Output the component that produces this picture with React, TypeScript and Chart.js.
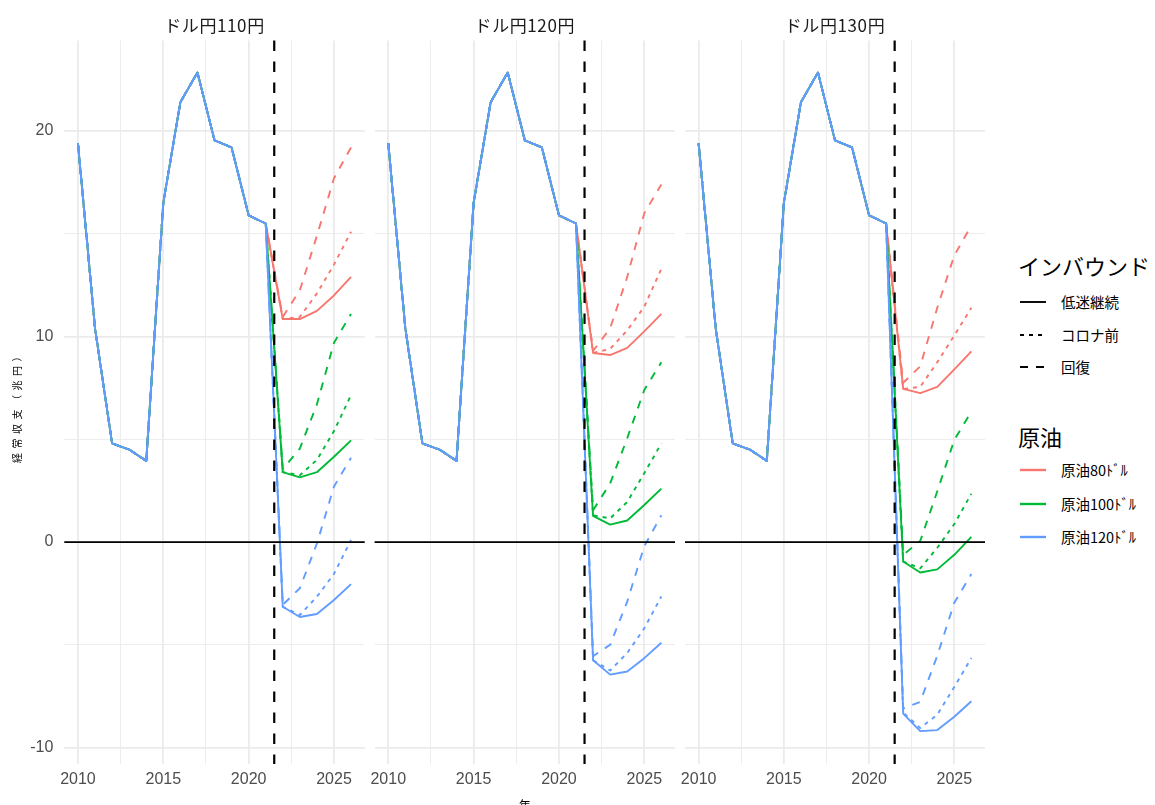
import React, { useEffect, useRef } from 'react';
import { Chart, registerables } from 'chart.js';

Chart.register(...registerables);

// ---------------- data ----------------
const years = [2010, 2011, 2012, 2013, 2014, 2015, 2016, 2017, 2018, 2019, 2020, 2021, 2022, 2023, 2024, 2025, 2026];
// actual 2010-2021 (common to every scenario)
const historyValues = [19.4, 10.4, 4.8, 4.5, 3.95, 16.5, 21.4, 22.85, 19.55, 19.2, 15.9, 15.5];

// projections 2022-2026, order: [低迷継続, コロナ前, 回復]
const yen110Oil80 = [[10.85, 10.85, 11.25, 12.0, 12.9], [10.85, 10.95, 12.1, 13.5, 15.1], [10.95, 12.25, 14.9, 17.7, 19.2]];
const yen110Oil100 = [[3.4, 3.15, 3.4, 4.15, 4.95], [3.4, 3.25, 4.0, 5.4, 7.15], [3.55, 4.55, 6.7, 9.7, 11.1]];
const yen110Oil120 = [[-3.15, -3.65, -3.5, -2.82, -2.05], [-3.15, -3.55, -2.66, -1.55, 0.1], [-3.05, -2.25, -0.07, 2.7, 4.1]];

const yen120Oil80 = [[9.2, 9.1, 9.45, 10.25, 11.1], [9.2, 9.4, 10.3, 11.45, 13.3], [9.3, 10.4, 12.9, 16.0, 17.4]];
const yen120Oil100 = [[1.27, 0.85, 1.05, 1.8, 2.6], [1.3, 1.15, 1.95, 3.35, 4.8], [1.55, 2.85, 5.05, 7.4, 8.75]];
const yen120Oil120 = [[-5.75, -6.45, -6.3, -5.65, -4.9], [-5.75, -6.25, -5.4, -4.2, -2.65], [-5.55, -5.0, -2.9, -0.2, 1.3]];

const yen130Oil80 = [[7.45, 7.25, 7.55, 8.4, 9.28], [7.45, 7.55, 8.75, 10.05, 11.4], [7.75, 8.55, 11.4, 13.95, 15.4]];
const yen130Oil100 = [[-0.95, -1.48, -1.33, -0.62, 0.25], [-0.95, -1.28, -0.28, 0.88, 2.35], [-0.62, 0.05, 2.47, 4.97, 6.35]];
const yen130Oil120 = [[-8.35, -9.2, -9.15, -8.5, -7.75], [-8.3, -9.05, -8.4, -7.05, -5.64], [-8.1, -7.78, -5.53, -2.95, -1.56]];

const panelTitles = ['ドル円110円', 'ドル円120円', 'ドル円130円'];
const panelSeries = [
  [yen110Oil80, yen110Oil100, yen110Oil120],
  [yen120Oil80, yen120Oil100, yen120Oil120],
  [yen130Oil80, yen130Oil100, yen130Oil120],
];
const oilLabels = ['原油80ﾄﾞﾙ', '原油100ﾄﾞﾙ', '原油120ﾄﾞﾙ'];
const inboundLabels = ['低迷継続', 'コロナ前', '回復'];
const oilColors = ['#F8766D', '#00BA38', '#619CFF'];
const dashPatterns: number[][] = [[], [4, 5], [8, 8]];

const xTickValues = [2010, 2012.5, 2015, 2017.5, 2020, 2022.5, 2025];
const yTickValues = [-10, -5, 0, 5, 10, 15, 20];
const xRange = [2009.2, 2026.8];
const yRange = [-10.8, 24.4];
const zeroLevel = 0;
const cutoffYear = 2021.5;

const yAxisTitle = '経常収支（兆円）';
const xAxisTitle = '年';
const inboundTitle = 'インバウンド';
const oilTitle = '原油';

// ---------------- layout ----------------
const CJK = '"Noto Sans CJK JP", "Noto Sans", sans-serif';
const SANS = '"Liberation Sans", Arial, sans-serif';

const panelBoxes = [
  { left: 0, width: 370, padLeft: 0, padRight: 5.3, yWidth: 64.3 },
  { left: 345, width: 345, padLeft: 29.6, padRight: 15, yWidth: 0 },
  { left: 655, width: 345, padLeft: 30, padRight: 15, yWidth: 0 },
];
const panelCenters = [214.5, 524.8, 835];

const refLines = {
  id: 'refLines',
  afterDatasetsDraw(chart: any) {
    const { ctx, chartArea, scales } = chart;
    ctx.save();
    const y0 = scales.y.getPixelForValue(zeroLevel);
    ctx.strokeStyle = '#000000';
    ctx.lineWidth = 1.8;
    ctx.beginPath();
    ctx.moveTo(chartArea.left, y0);
    ctx.lineTo(chartArea.right, y0);
    ctx.stroke();
    const xc = scales.x.getPixelForValue(cutoffYear);
    ctx.setLineDash([10.5, 10.5]);
    ctx.lineWidth = 2.2;
    ctx.beginPath();
    ctx.moveTo(xc, chartArea.top);
    ctx.lineTo(xc, chartArea.bottom);
    ctx.stroke();
    ctx.restore();
  },
};

function buildDatasets(series: number[][][]) {
  const ds: any[] = [];
  series.forEach((oil, oi) => {
    oil.forEach((proj, li) => {
      ds.push({
        label: `${oilLabels[oi]} ${inboundLabels[li]}`,
        data: years.map((yr, k) => ({
          x: yr,
          y: k < historyValues.length ? historyValues[k] : proj[k - historyValues.length],
        })),
        borderColor: oilColors[oi],
        backgroundColor: oilColors[oi],
        borderWidth: 1.9,
        borderDash: dashPatterns[li],
        borderCapStyle: 'butt',
        borderJoinStyle: 'round',
        pointRadius: 0,
        pointHoverRadius: 0,
        tension: 0,
        fill: false,
      });
    });
  });
  // first dataset is drawn on top in Chart.js; ggplot draws last group on top
  return ds.reverse();
}

function makeConfig(pi: number): any {
  const box = panelBoxes[pi];
  const showY = pi === 0;
  return {
    type: 'line',
    data: { datasets: buildDatasets(panelSeries[pi]) },
    options: {
      animation: false,
      responsive: false,
      devicePixelRatio: 1,
      layout: { padding: { left: box.padLeft, right: box.padRight, top: 40.6, bottom: 0 } },
      plugins: { legend: { display: false }, tooltip: { enabled: false }, title: { display: false } },
      events: [],
      scales: {
        x: {
          type: 'linear',
          min: xRange[0],
          max: xRange[1],
          afterBuildTicks: (s: any) => {
            s.ticks = xTickValues.map((v) => ({ value: v }));
          },
          afterFit: (s: any) => {
            s.height = 41;
          },
          border: { display: false },
          grid: {
            color: '#EBEBEB',
            lineWidth: (c: any) => (c.tick && c.tick.value % 5 === 0 ? 1.8 : 0.9),
            drawTicks: false,
          },
          ticks: {
            autoSkip: false,
            maxRotation: 0,
            padding: 6,
            color: '#4D4D4D',
            font: { family: SANS, size: 16 },
            callback: (v: any) => (Number(v) % 5 === 0 ? String(v) : ''),
          },
        },
        y: {
          type: 'linear',
          min: yRange[0],
          max: yRange[1],
          afterBuildTicks: (s: any) => {
            s.ticks = yTickValues.map((v) => ({ value: v }));
          },
          afterFit: (s: any) => {
            s.width = box.yWidth;
          },
          border: { display: false },
          grid: {
            color: '#EBEBEB',
            lineWidth: (c: any) => (c.tick && c.tick.value % 10 === 0 ? 1.8 : 0.9),
            drawTicks: false,
          },
          ticks: {
            display: showY,
            padding: 11,
            color: '#4D4D4D',
            font: { family: SANS, size: 16 },
            callback: (v: any) => (Number(v) % 10 === 0 ? String(v) : ''),
          },
        },
      },
    },
    plugins: [refLines],
  };
}

function LegendKey({ dash, color, width }: { dash: number[]; color: string; width: number }) {
  return (
    <svg width={30} height={10} style={{ position: 'absolute', left: 1019, top: -5, overflow: 'visible' }}>
      <line x1={1} y1={5} x2={27} y2={5} stroke={color} strokeWidth={width} strokeDasharray={dash.length ? dash.join(' ') : undefined} />
    </svg>
  );
}

export default function App() {
  const r0 = useRef<HTMLCanvasElement>(null);
  const r1 = useRef<HTMLCanvasElement>(null);
  const r2 = useRef<HTMLCanvasElement>(null);

  useEffect(() => {
    const refs = [r0, r1, r2];
    const charts = refs.map((r, i) => new Chart(r.current as HTMLCanvasElement, makeConfig(i)));
    return () => charts.forEach((c) => c.destroy());
  }, []);

  const refs = [r0, r1, r2];
  const legendItem = (y: number, key: React.ReactNode, label: string) => (
    <div key={label} style={{ position: 'absolute', left: 0, top: y, width: 1155, height: 0 }}>
      {key}
      <div style={{ position: 'absolute', left: 1061, top: -10, lineHeight: '20px', fontSize: 14.5, fontFamily: CJK, color: '#000', whiteSpace: 'nowrap' }}>
        {label}
      </div>
    </div>
  );

  return (
    <div style={{ position: 'absolute', left: 0, top: 0, width: 1155, height: 805, overflow: 'hidden', background: '#fff' }}>
      {panelBoxes.map((b, i) => (
        <canvas
          key={i}
          ref={refs[i]}
          width={b.width}
          height={805}
          style={{ position: 'absolute', left: b.left, top: 0, width: b.width, height: 805 }}
        />
      ))}
      {panelTitles.map((t, i) => (
        <div
          key={t}
          style={{
            position: 'absolute',
            left: panelCenters[i],
            top: 15,
            transform: 'translateX(-50%)',
            fontFamily: CJK,
            fontSize: 17,
            letterSpacing: '0.6px',
            lineHeight: '20px',
            color: '#1A1A1A',
            whiteSpace: 'nowrap',
          }}
        >
          {t}
        </div>
      ))}
      <div
        style={{
          position: 'absolute',
          left: 17,
          top: 405,
          transform: 'translate(-50%, -50%) rotate(-90deg)',
          fontFamily: CJK,
          fontSize: 10,
          letterSpacing: '4.5px',
          lineHeight: '12px',
          color: '#000',
          whiteSpace: 'nowrap',
        }}
      >
        {yAxisTitle}
      </div>
      <div
        style={{
          position: 'absolute',
          left: panelCenters[1],
          top: 797,
          transform: 'translateX(-50%)',
          fontFamily: CJK,
          fontSize: 12,
          lineHeight: '16px',
          color: '#000',
        }}
      >
        {xAxisTitle}
      </div>
      <div style={{ position: 'absolute', left: 1018, top: 251, fontFamily: CJK, fontSize: 22, lineHeight: '28px', color: '#000', whiteSpace: 'nowrap' }}>
        {inboundTitle}
      </div>
      {inboundLabels.map((l, i) => legendItem([301.5, 334.5, 367][i], <LegendKey dash={dashPatterns[i]} color="#000" width={1.9} />, l))}
      <div style={{ position: 'absolute', left: 1018, top: 422, fontFamily: CJK, fontSize: 22, lineHeight: '28px', color: '#000', whiteSpace: 'nowrap' }}>
        {oilTitle}
      </div>
      {oilLabels.map((l, i) => legendItem([470, 504, 537][i], <LegendKey dash={[]} color={oilColors[i]} width={2.4} />, l))}
    </div>
  );
}
